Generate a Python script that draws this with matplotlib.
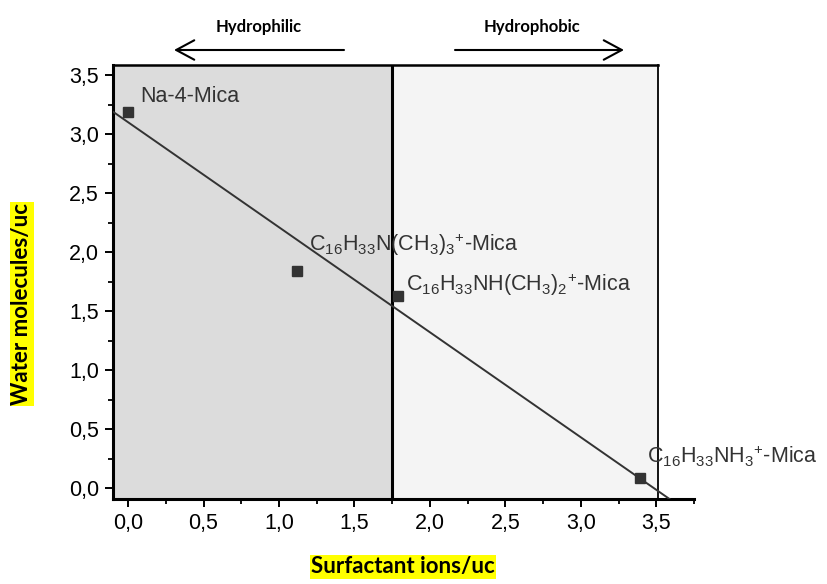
import matplotlib
matplotlib.use("Agg")
import matplotlib.pyplot as plt
from matplotlib.patches import Rectangle, FancyArrowPatch
from matplotlib.ticker import MultipleLocator, FuncFormatter
import numpy as np

# data
surfactant = [0.0, 1.12, 1.79, 3.39]
water = [3.19, 1.84, 1.63, 0.085]
labels = [
    "Na-4-Mica",
    r"C$_{16}$H$_{33}$N(CH$_3$)$_3$$^{+}$-Mica",
    r"C$_{16}$H$_{33}$NH(CH$_3$)$_2$$^{+}$-Mica",
    r"C$_{16}$H$_{33}$NH$_3$$^{+}$-Mica",
]
label_pos = [(0.08, 3.32), (1.20, 2.06), (1.84, 1.72), (3.44, 0.27)]
fit_intercept = 3.10
fit_slope = -0.89
fit_x = [-0.1, 3.7]
divider_x = 1.75
box_right = 3.51

plt.rcParams['font.family'] = ['Liberation Sans', 'DejaVu Sans']
plt.rcParams['mathtext.fontset'] = 'custom'
plt.rcParams['mathtext.rm'] = 'Liberation Sans'
plt.rcParams['mathtext.it'] = 'Liberation Sans'

fig = plt.figure(figsize=(8.27, 5.84), dpi=100)
ax = fig.add_axes([113 / 827, 1 - 499 / 584, (694 - 113) / 827, (499 - 65) / 584])
xmin, xmax = -0.1, 3.75
ymin, ymax = -0.093, 3.585
ax.set_xlim(xmin, xmax)
ax.set_ylim(ymin, ymax)

# shaded regions
ax.add_patch(Rectangle((xmin, ymin), divider_x - xmin, ymax - ymin, facecolor="#dcdcdc", edgecolor="none", zorder=0))
ax.add_patch(Rectangle((divider_x, ymin), box_right - divider_x, ymax - ymin, facecolor="#f4f4f4", edgecolor="none", zorder=0))
# box top and right
ax.plot([xmin, box_right], [ymax, ymax], color="black", lw=1.8, clip_on=False, zorder=3)
ax.plot([box_right, box_right], [ymin, ymax], color="black", lw=1.3, clip_on=False, zorder=3)
ax.axvline(divider_x, color="black", lw=2.2, zorder=3)

fx = np.array(fit_x)
ax.plot(fx, fit_intercept + fit_slope * fx, color="#333333", lw=1.4, zorder=4)
ax.plot(surfactant, water, linestyle="none", marker="s", markersize=6.5, color="#333333", zorder=5)

for lab, (tx, ty) in zip(labels, label_pos):
    ax.text(tx, ty, lab, fontsize=15.5, color="#333333", va="center", ha="left", zorder=6, clip_on=False)

for side in ["top", "right"]:
    ax.spines[side].set_visible(False)
for side in ["left", "bottom"]:
    ax.spines[side].set_linewidth(2.2)

ax.xaxis.set_major_locator(MultipleLocator(0.5))
ax.xaxis.set_minor_locator(MultipleLocator(0.25))
ax.yaxis.set_major_locator(MultipleLocator(0.5))
ax.yaxis.set_minor_locator(MultipleLocator(0.25))
comma = FuncFormatter(lambda v, pos: f"{v:.1f}".replace(".", ","))
ax.xaxis.set_major_formatter(comma)
ax.yaxis.set_major_formatter(comma)
ax.set_xticks(list(np.arange(0, 3.51, 0.5)))
ax.tick_params(which="major", direction="out", length=6, width=1.4, labelsize=15.5, colors="black", pad=4)
ax.tick_params(which="minor", direction="out", length=3.6, width=1.3)

fig.text(22 / 827, 1 - 304 / 584, "Water molecules/uc", rotation=90, fontsize=16, fontweight="bold",
         family=["Lato", "DejaVu Sans"], ha="center", va="center",
         bbox=dict(facecolor="#ffff00", edgecolor="none", pad=1))
fig.text(403 / 827, 1 - 567 / 584, "Surfactant ions/uc", fontsize=16, fontweight="bold",
         family=["Lato", "DejaVu Sans"], ha="center", va="center",
         bbox=dict(facecolor="#ffff00", edgecolor="none", pad=1))

fig.text(259 / 827, 1 - 27 / 584, "Hydrophilic", fontsize=12, fontweight="bold",
         family=["Lato", "DejaVu Sans"], ha="center", va="center")
fig.text(532 / 827, 1 - 27 / 584, "Hydrophobic", fontsize=12, fontweight="bold",
         family=["Lato", "DejaVu Sans"], ha="center", va="center")
for start, end in [((344, 50), (174, 50)), ((455, 50), (624, 50))]:
    fig.patches.append(FancyArrowPatch(
        (start[0] / 827, 1 - start[1] / 584), (end[0] / 827, 1 - end[1] / 584), transform=fig.transFigure,
        arrowstyle="->,head_length=1.3,head_width=0.7", mutation_scale=10,
        color="black", lw=1.5, shrinkA=0, shrinkB=0))

fig.savefig("out.png", dpi=100)
